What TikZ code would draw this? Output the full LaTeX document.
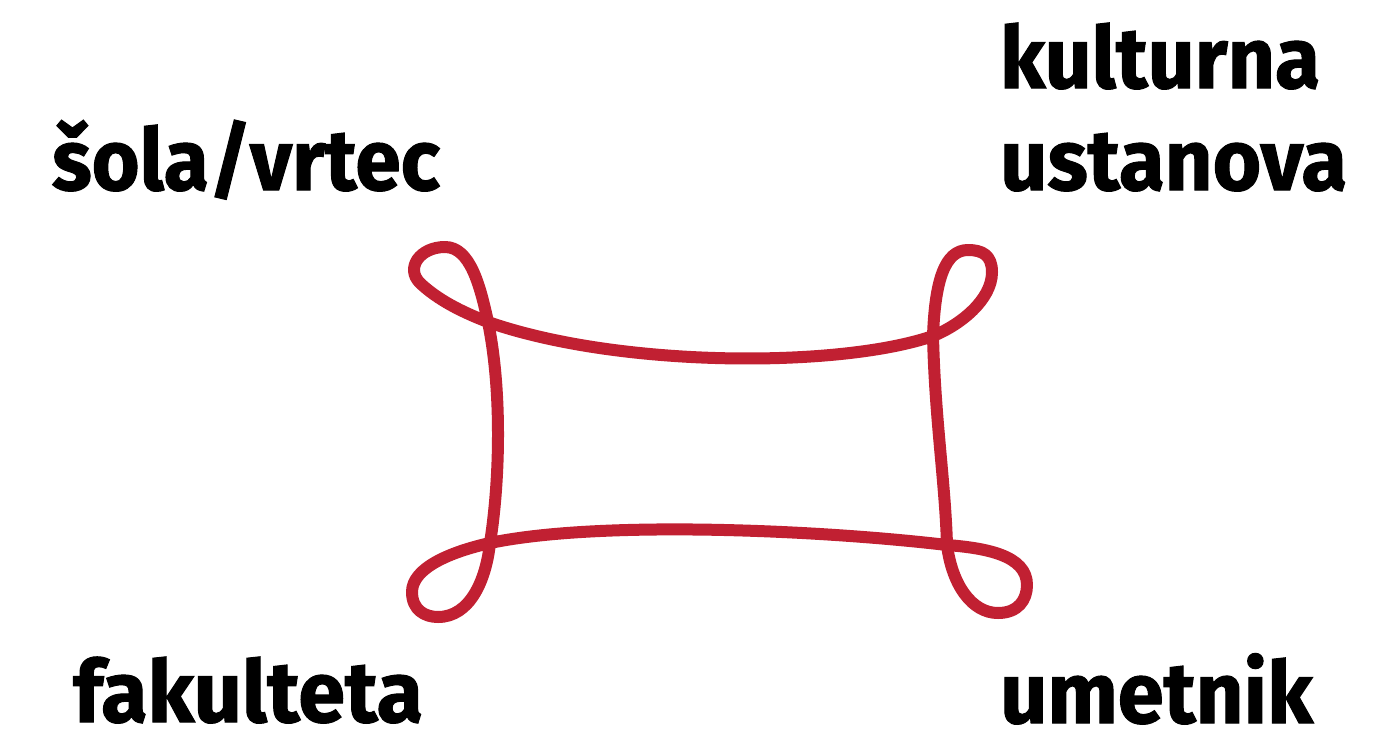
\documentclass[tikz,border=0pt]{standalone}
\usepackage{fontspec}
\setmainfont{Fira Sans}
\usepackage{graphicx}
\definecolor{ribbon}{RGB}{193,32,50}
\newsavebox\wbox
\newcommand\fitw[2]{\sbox\wbox{#2}\pgfmathsetmacro\sxfac{#1/\wd\wbox}\scalebox{\sxfac}[1]{\usebox\wbox}}
\tikzset{
  lbl/.style={anchor=base west, inner sep=0pt, outer sep=0pt, font=\fontsize{86}{86}\selectfont\bfseries\addfontfeature{FakeBold=1.2}, text=black},
  loopline/.style={draw=ribbon, line width=12pt, line join=round, line cap=round}
}
\begin{document}
\begin{tikzpicture}[x=1pt,y=-1pt]
\useasboundingbox (0,0) rectangle (1378,734);
\fill[white] (0,0) rectangle (1378,734);
% crossing points
\coordinate (tl) at (488,322);
\coordinate (tr) at (933,336);
\coordinate (br) at (947,545);
\coordinate (bl) at (490,543);
\draw[loopline]
  (tl) .. controls (620,368) and (840,368) .. (tr)
  .. controls (960,325) and (992,300) .. (992,272)
  .. controls (992,255) and (982,250) .. (968,250)
  .. controls (945,250) and (935,280) .. (tr)
  .. controls (935,420) and (945,480) .. (br)
  .. controls (952,585) and (972,613) .. (998,613)
  .. controls (1018,613) and (1027,600) .. (1027,585)
  .. controls (1027,555) and (985,548) .. (br)
  .. controls (820,530) and (600,520) .. (bl)
  .. controls (450,552) and (412,568) .. (412,592)
  .. controls (412,610) and (425,617) .. (438,617)
  .. controls (470,617) and (486,580) .. (bl)
  .. controls (500,480) and (502,390) .. (tl)
  .. controls (480,285) and (470,247) .. (445,247)
  .. controls (420,247) and (405,268) .. (420,283)
  .. controls (438,300) and (462,312) .. (tl) -- cycle;
\node[lbl] (sola) at (52,190) {\fitw{388}{šola/vrtec}};
\node[lbl] (kult) at (1000,88) {\fitw{320}{kulturna}};
\node[lbl] (ust) at (1000,190) {\fitw{347}{ustanova}};
\node[lbl] (fak) at (73,722) {\fitw{350}{fakulteta}};
\node[lbl] (umet) at (1000,723) {\fitw{313}{umetnik}};
\end{tikzpicture}
\end{document}
